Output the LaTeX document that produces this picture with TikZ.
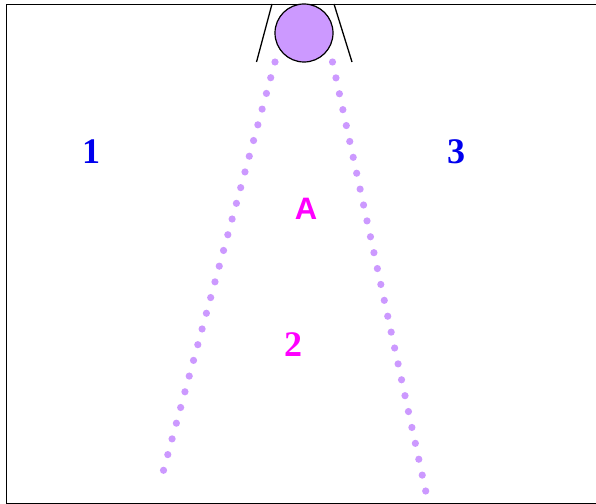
\documentclass[tikz,border=0pt]{standalone}
\usepackage{fontspec}
\setmainfont{Liberation Serif}
\newfontfamily\zonesans{Liberation Sans}
\usetikzlibrary{calc, positioning}
\definecolor{lilac}{HTML}{CC99FF}
\definecolor{zoneblue}{HTML}{0000EE}
\definecolor{zonepink}{HTML}{FF00FF}

\begin{document}
\begin{tikzpicture}[x=1pt, y=-1pt, every node/.style={font=\bfseries\fontsize{36}{40}\selectfont},
	outerzone/.style={text=zoneblue}, innerzone/.style={text=zonepink},
	beamdot/.style={fill=lilac, draw=none}]
			\useasboundingbox (0,0) rectangle (596,503);
			\clip (0,0) rectangle (596,503);
			% Frame (right and bottom sides run off the page)
			\draw[line width=1.5pt] (6.5,4.5) rectangle (600,503.9);
			
			% Lamp and its shade
			\node[circle, draw, line width=1.2pt, fill=lilac, minimum size=58pt, inner sep=0pt] (lamp) at (304,33) {};
			\coordinate (shadeLtop) at (272,4);
			\coordinate (shadeLbot) at (256.5,62);
			\coordinate (shadeRtop) at (334,4);
			\coordinate (shadeRbot) at (352,62);
			\draw[line width=1.3pt] (shadeLtop) -- (shadeLbot);
			\draw[line width=1.3pt] (shadeRtop) -- (shadeRbot);
			
			% Dotted edges of the light beam
			\coordinate (beamLtop) at (275,62);
			\coordinate (beamLend) at (163.5,470.3);
			\coordinate (beamRtop) at (332.5,62);
			\coordinate (beamRend) at (425.7,491);
			\foreach \i in {0,...,26}
				\fill[beamdot] ($(beamLtop)!\i/26!(beamLend)$) circle (3.6pt);
			\foreach \i in {0,...,27}
				\fill[beamdot] ($(beamRtop)!\i/27!(beamRend)$) circle (3.6pt);
			
			% Zone labels
			\node[outerzone] (zone1) at (91,152) {1};
			\node[outerzone] (zone3) at (456,152) {3};
			\node[innerzone, font=\zonesans\bfseries\fontsize{31}{36}\selectfont] (zoneA) at (306,209) {A};
			\node[innerzone] (zone2) at (293,345) {2};
		\end{tikzpicture}
\end{document}
